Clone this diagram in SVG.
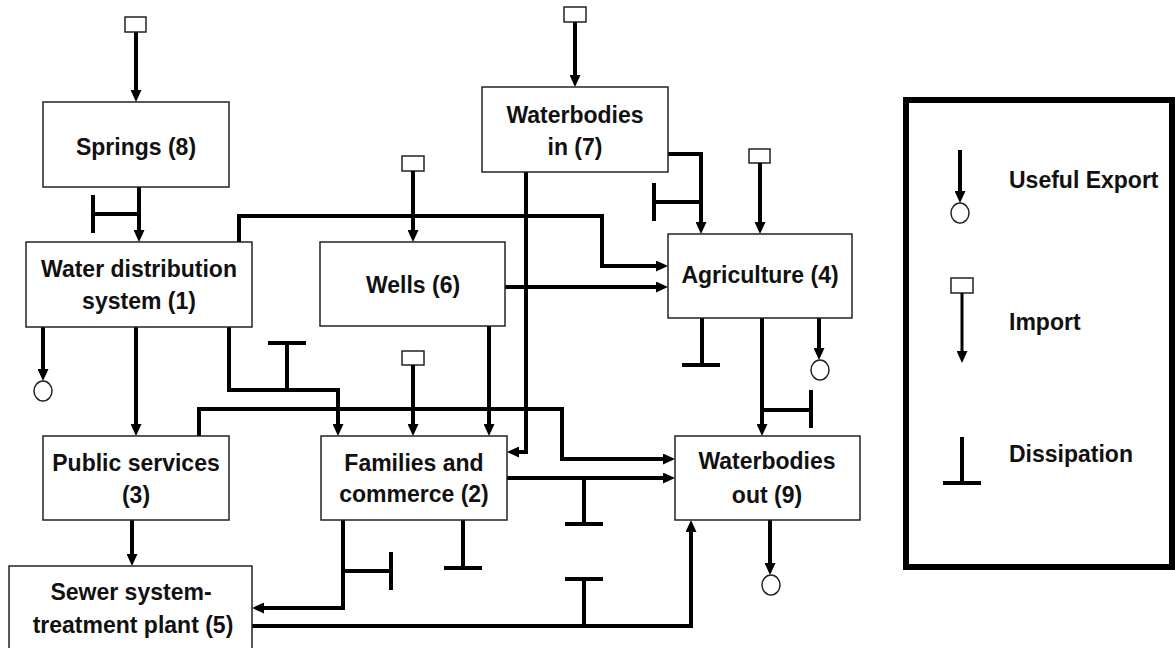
<svg xmlns="http://www.w3.org/2000/svg" width="1175" height="648" viewBox="0 0 1175 648">
<defs>
<marker id="arr" markerUnits="userSpaceOnUse" markerWidth="12" markerHeight="11" refX="4" refY="5.5" orient="auto">
<path d="M0,0 L12,5.5 L0,11 z" fill="#000"/>
</marker>
<style>
.box{fill:#fff;stroke:#222;stroke-width:1.5}
.t{font-family:"Liberation Sans",Arial,sans-serif;font-weight:bold;font-size:23px;fill:#111;text-anchor:middle}
.lt{font-family:"Liberation Sans",Arial,sans-serif;font-weight:bold;font-size:23px;fill:#111}
.c{fill:none;stroke:#000;stroke-width:4}
.a{fill:none;stroke:#000;stroke-width:4;marker-end:url(#arr)}
.imp{fill:#fff;stroke:#222;stroke-width:1.5}
.exp{fill:#fff;stroke:#222;stroke-width:1.5}
</style>
</defs>
<rect width="1175" height="648" fill="#fff"/>

<g id="connectors">
<!-- Springs import -->
<rect class="imp" x="125" y="17" width="21" height="15"/>
<path class="a" d="M136,32 V94"/>
<!-- Springs to WDS with dissipation -->
<path class="a" d="M139,187 V234"/>
<path class="c" d="M139,214 H93 M93,195 V233"/>
<!-- WDS to Agriculture -->
<path class="a" d="M239,242 V216 H602 V266 H660"/>
<!-- Wells import -->
<rect class="imp" x="402" y="156" width="22" height="15"/>
<path class="a" d="M413,171 V234"/>
<!-- Waterbodies in import -->
<rect class="imp" x="564" y="7" width="22" height="15"/>
<path class="a" d="M575,22 V79"/>
<!-- Waterbodies in to Agriculture -->
<path class="a" d="M668,154 H701 V226"/>
<path class="c" d="M701,202 H654 M654,183 V221"/>
<!-- Agriculture import -->
<rect class="imp" x="749" y="149" width="21" height="14"/>
<path class="a" d="M760,163 V226"/>
<!-- Wells to Agriculture -->
<path class="a" d="M505,287 H660"/>
<!-- Waterbodies in to Families -->
<path class="a" d="M526,172 V452 H515"/>
<!-- Wells to Families -->
<path class="a" d="M489,326 V428"/>
<!-- WDS export -->
<path class="a" d="M43,327 V373"/>
<ellipse class="exp" cx="43" cy="391" rx="9" ry="10"/>
<!-- WDS to Public services -->
<path class="a" d="M136,327 V428"/>
<!-- WDS to Families -->
<path class="a" d="M229,327 V390 H338 V428"/>
<path class="c" d="M287,390 V343 M268,343 H306"/>
<!-- Families import -->
<rect class="imp" x="402" y="351" width="22" height="14"/>
<path class="a" d="M413,365 V428"/>
<!-- Public services to Waterbodies out -->
<path class="a" d="M199,436 V409 H562 V459 H667"/>
<!-- Families to Waterbodies out -->
<path class="a" d="M507,478 H667"/>
<path class="c" d="M584,478 V524 M565,524 H603"/>
<!-- Agriculture dissipation -->
<path class="c" d="M702,318 V365 M682,365 H720"/>
<!-- Agriculture export -->
<path class="a" d="M819,318 V352"/>
<ellipse class="exp" cx="820" cy="370" rx="9" ry="10"/>
<!-- Agriculture to Waterbodies out -->
<path class="a" d="M762,318 V428"/>
<path class="c" d="M762,410 H811 M811,390 V428"/>
<!-- Waterbodies out export -->
<path class="a" d="M770,520 V567"/>
<ellipse class="exp" cx="771" cy="585" rx="9" ry="10"/>
<!-- Public services to Sewer -->
<path class="a" d="M132,520 V558"/>
<!-- Families to Sewer -->
<path class="a" d="M343,520 V608 H260"/>
<path class="c" d="M343,571 H391 M391,552 V590"/>
<!-- Families dissipation -->
<path class="c" d="M463,520 V568 M444,568 H482"/>
<!-- Sewer to Waterbodies out -->
<path class="a" d="M252,626 H691 V528"/>
<path class="c" d="M584,626 V579 M565,579 H603"/>
</g>

<g id="n8"><rect class="box" x="43" y="102" width="186" height="85"/><text class="t" x="136" y="155">Springs (8)</text></g>
<g id="n7"><rect class="box" x="482" y="87" width="186" height="85"/><text class="t" x="575" y="123">Waterbodies</text><text class="t" x="575" y="155">in (7)</text></g>
<g id="n1"><rect class="box" x="26" y="242" width="226" height="85"/><text class="t" x="139" y="277">Water distribution</text><text class="t" x="139" y="309">system (1)</text></g>
<g id="n6"><rect class="box" x="320" y="242" width="185" height="84"/><text class="t" x="413" y="293">Wells (6)</text></g>
<g id="n4"><rect class="box" x="668" y="234" width="184" height="84"/><text class="t" x="760" y="283">Agriculture (4)</text></g>
<g id="n3"><rect class="box" x="43" y="436" width="186" height="84"/><text class="t" x="136" y="471">Public services</text><text class="t" x="136" y="503">(3)</text></g>
<g id="n2"><rect class="box" x="321" y="436" width="186" height="84"/><text class="t" x="414" y="471">Families and</text><text class="t" x="414" y="502">commerce (2)</text></g>
<g id="n9"><rect class="box" x="675" y="436" width="185" height="84"/><text class="t" x="767" y="469">Waterbodies</text><text class="t" x="767" y="503">out (9)</text></g>
<g id="n5"><rect class="box" x="9" y="566" width="243" height="90"/><text class="t" x="131" y="600">Sewer system-</text><text class="t" x="133" y="633">treatment plant (5)</text></g>

<g id="legend">
<rect x="906" y="100" width="266" height="467" fill="#fff" stroke="#000" stroke-width="6"/>
<path class="a" d="M960,150 V195"/>
<ellipse class="exp" cx="960" cy="213" rx="9" ry="10"/>
<text class="lt" x="1009" y="188">Useful Export</text>
<rect class="imp" x="951" y="278" width="22" height="15"/>
<path d="M962,293 V355" fill="none" stroke="#000" stroke-width="3" marker-end="url(#arr)"/>
<text class="lt" x="1009" y="330">Import</text>
<path class="c" d="M962,437 V483 M943,483 H981"/>
<text class="lt" x="1009" y="462">Dissipation</text>
</g>
</svg>
